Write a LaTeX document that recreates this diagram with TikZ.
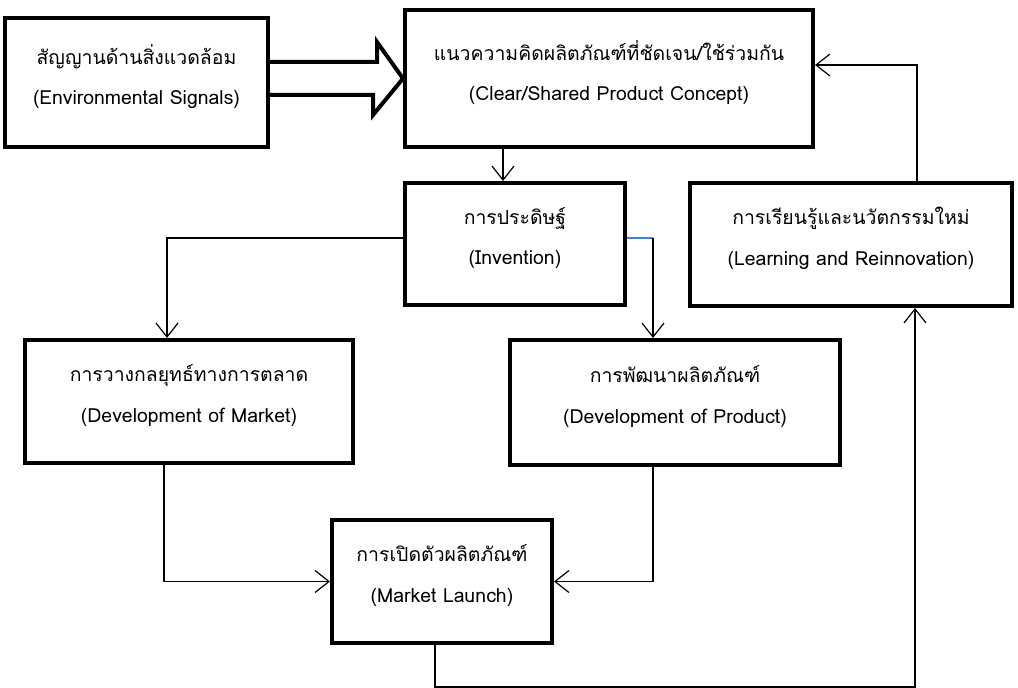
\documentclass[tikz,border=0pt]{standalone}
\usepackage{fontspec}
\setmainfont[Script=Thai]{Loma}
\usepackage{xcolor}
\usetikzlibrary{positioning, arrows.meta}
\definecolor{linkblue}{RGB}{70,130,200}

\begin{document}
\begin{tikzpicture}[
    x=1bp, y=-1bp, % pixel-like units, y grows downwards
    font=\fontsize{19.5}{22}\selectfont,
    % --- STYLES ---
    stage_box/.style={draw, line width=4bp, align=center, inner sep=0pt, text depth=16bp},
    arrow_style/.style={-{Straight Barb[length=14bp, width=22bp]}, line width=1.2bp},
    fat_arrow/.style={line width=4bp, line join=miter}
]
\useasboundingbox (0,0) rectangle (1018,688);

% --- STAGE BOXES ---
\node[stage_box, minimum width=263bp, minimum height=129bp] (env) at (136.5,82.5) {%
    สัญญานด้านสิ่งแวดล้อม\\[19bp](Environmental Signals)};
\node[stage_box, minimum width=408bp, minimum height=137bp] (concept) at (609,78.5) {%
    แนวความคิดผลิตภัณฑ์ที่ชัดเจน/ใช้ร่วมกัน\\[19bp](Clear/Shared Product Concept)};
\node[stage_box, minimum width=220bp, minimum height=122bp] (invent) at (515,244) {%
    การประดิษฐ์\\[19bp](Invention)};
\node[stage_box, minimum width=322bp, minimum height=123bp] (learn) at (851,244.5) {%
    การเรียนรู้และนวัตกรรมใหม่\\[19bp](Learning and Reinnovation)};
\node[stage_box, minimum width=328bp, minimum height=123bp] (market) at (189,401.5) {%
    การวางกลยุทธ์ทางการตลาด\\[19bp](Development of Market)};
\node[stage_box, minimum width=330bp, minimum height=125bp] (product) at (675,402.5) {%
    การพัฒนาผลิตภัณฑ์\\[19bp](Development of Product)};
\node[stage_box, minimum width=220bp, minimum height=123bp] (launch) at (442,581.5) {%
    การเปิดตัวผลิตภัณฑ์\\[19bp](Market Launch)};

% --- FAT ARROW: signals into concept ---
\draw[fat_arrow] ([yshift=20.5bp]env.east) -- ++(107,0) -- ++(0,-20) -- (concept.west)
    -- ++(-30,36.5) -- ++(0,-20) -- ([yshift=-12.5bp]env.east);

% --- ARROWS ---
\draw[arrow_style] ([xshift=-12bp]invent.north |- concept.south) -- ([xshift=-12bp]invent.north);
\draw[arrow_style] ([yshift=6bp]invent.west) -| ([xshift=-22bp]market.north);
% invention -> product (first leg is blue)
\path ([yshift=6bp]invent.east) coordinate (inv_out);
\path ([xshift=-22bp]product.north) coordinate (prod_in);
\draw[linkblue, line width=1.2bp] (inv_out) -- (inv_out -| prod_in);
\draw[arrow_style] (inv_out -| prod_in) -- (prod_in);
% feedback into concept
\draw[arrow_style] ([xshift=66bp]learn.north) |- ([yshift=13.5bp]concept.east);
% into launch
\draw[arrow_style] ([xshift=-25bp]market.south) |- (launch.west);
\draw[arrow_style] ([xshift=-22bp]product.south) |- (launch.east);
% launch -> learning
\draw[arrow_style] ([xshift=-7bp]launch.south) -- ++(0,42) -| ([xshift=64bp]learn.south);

\end{tikzpicture}
\end{document}
